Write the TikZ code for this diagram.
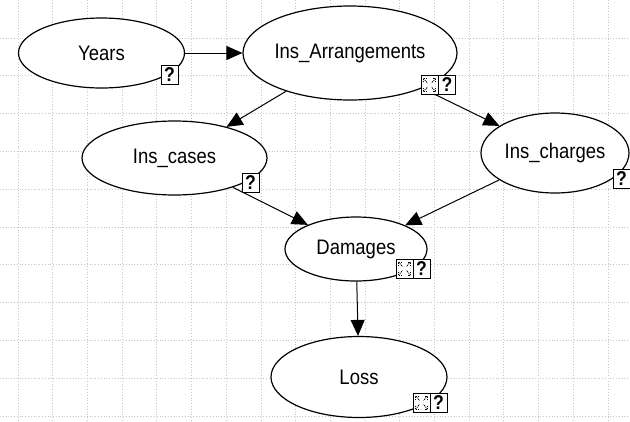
\documentclass[tikz,border=0pt]{standalone}
\usepackage{fontspec}
\newfontfamily\lab{Liberation Sans}[FakeStretch=0.88]
\usetikzlibrary{arrows.meta,shapes.geometric}
\tikzset{
  gridline/.style={draw=gray!45, line width=0.8pt, dotted},
  ell/.style={ellipse, draw=black, line width=1.2pt, fill=white, inner sep=0pt,
    font=\lab\fontsize{21}{24}\selectfont},
  qbox/.style={rectangle, draw=black, line width=1pt, fill=white, minimum width=17pt,
    minimum height=19pt, inner sep=0pt, font=\lab\bfseries\fontsize{20}{20}\selectfont},
  ibox/.style={rectangle, draw=black, line width=1pt, fill=white, minimum width=17pt,
    minimum height=19pt, inner sep=0pt,
    path picture={
      \foreach \sx in {-1,1}{\foreach \sy in {-1,1}{
        \draw[line width=0.9pt, black, dash pattern=on 1pt off 1pt]
          ([shift={(\sx*6pt,\sy*6.5pt)}]path picture bounding box.center) --
          ([shift={(\sx*2pt,\sy*2pt)}]path picture bounding box.center);
        \draw[line width=0.9pt, black, dash pattern=on 1pt off 1pt]
          ([shift={(\sx*6pt,\sy*3pt)}]path picture bounding box.center) --
          ([shift={(\sx*6pt,\sy*6.5pt)}]path picture bounding box.center) --
          ([shift={(\sx*3pt,\sy*6.5pt)}]path picture bounding box.center);
      }}
    }},
  arr/.style={line width=1pt, -{Triangle[length=16pt,width=14pt]}}
}
\begin{document}
\begin{tikzpicture}[x=1pt,y=-1pt]
\useasboundingbox[fill=white] (0,0) rectangle (630,421);
% grid
\foreach \i in {0,...,17} \draw[gridline] (18+34.7*\i,0) -- (18+34.7*\i,421);
\foreach \j in {0,...,10} \draw[gridline] (0,38+37.8*\j) -- (630,38+37.8*\j);
% nodes
\node[ell, minimum width=166pt, minimum height=70pt] (years) at (101.5,53) {Years};
\node[ell, minimum width=214pt, minimum height=94pt] (insarr) at (350,53) {Ins\_Arrangements};
\node[ell, minimum width=185pt, minimum height=74pt] (cases) at (174.5,158) {Ins\_cases};
\node[ell, minimum width=148pt, minimum height=80pt] (charges) at (555,153) {Ins\_charges};
\node[ell, minimum width=142pt, minimum height=64pt] (damages) at (356,249) {Damages};
\node[ell, minimum width=176pt, minimum height=81pt] (loss) at (359,377) {Loss};
% edges
\draw[arr] (years) -- (insarr);
\draw[arr] (insarr) -- (cases);
\draw[arr] (insarr) -- (charges);
\draw[arr] (cases) -- (damages);
\draw[arr] (charges) -- (damages);
\draw[arr] (damages) -- (loss);
% boxes
\node[qbox] (yearsq) at (169.5,75) {?};
\node[ibox] (insarri) at (429.5,85) {};
\node[qbox] (insarrq) at (447,85) {?};
\node[qbox] (casesq) at (250.5,182.5) {?};
\node[qbox] (chargesq) at (621.5,179) {?};
\node[ibox] (damagesi) at (404.5,268.5) {};
\node[qbox] (damagesq) at (421.5,268.5) {?};
\node[ibox] (lossi) at (421.5,402.5) {};
\node[qbox] (lossq) at (438.5,402.5) {?};
\end{tikzpicture}
\end{document}
